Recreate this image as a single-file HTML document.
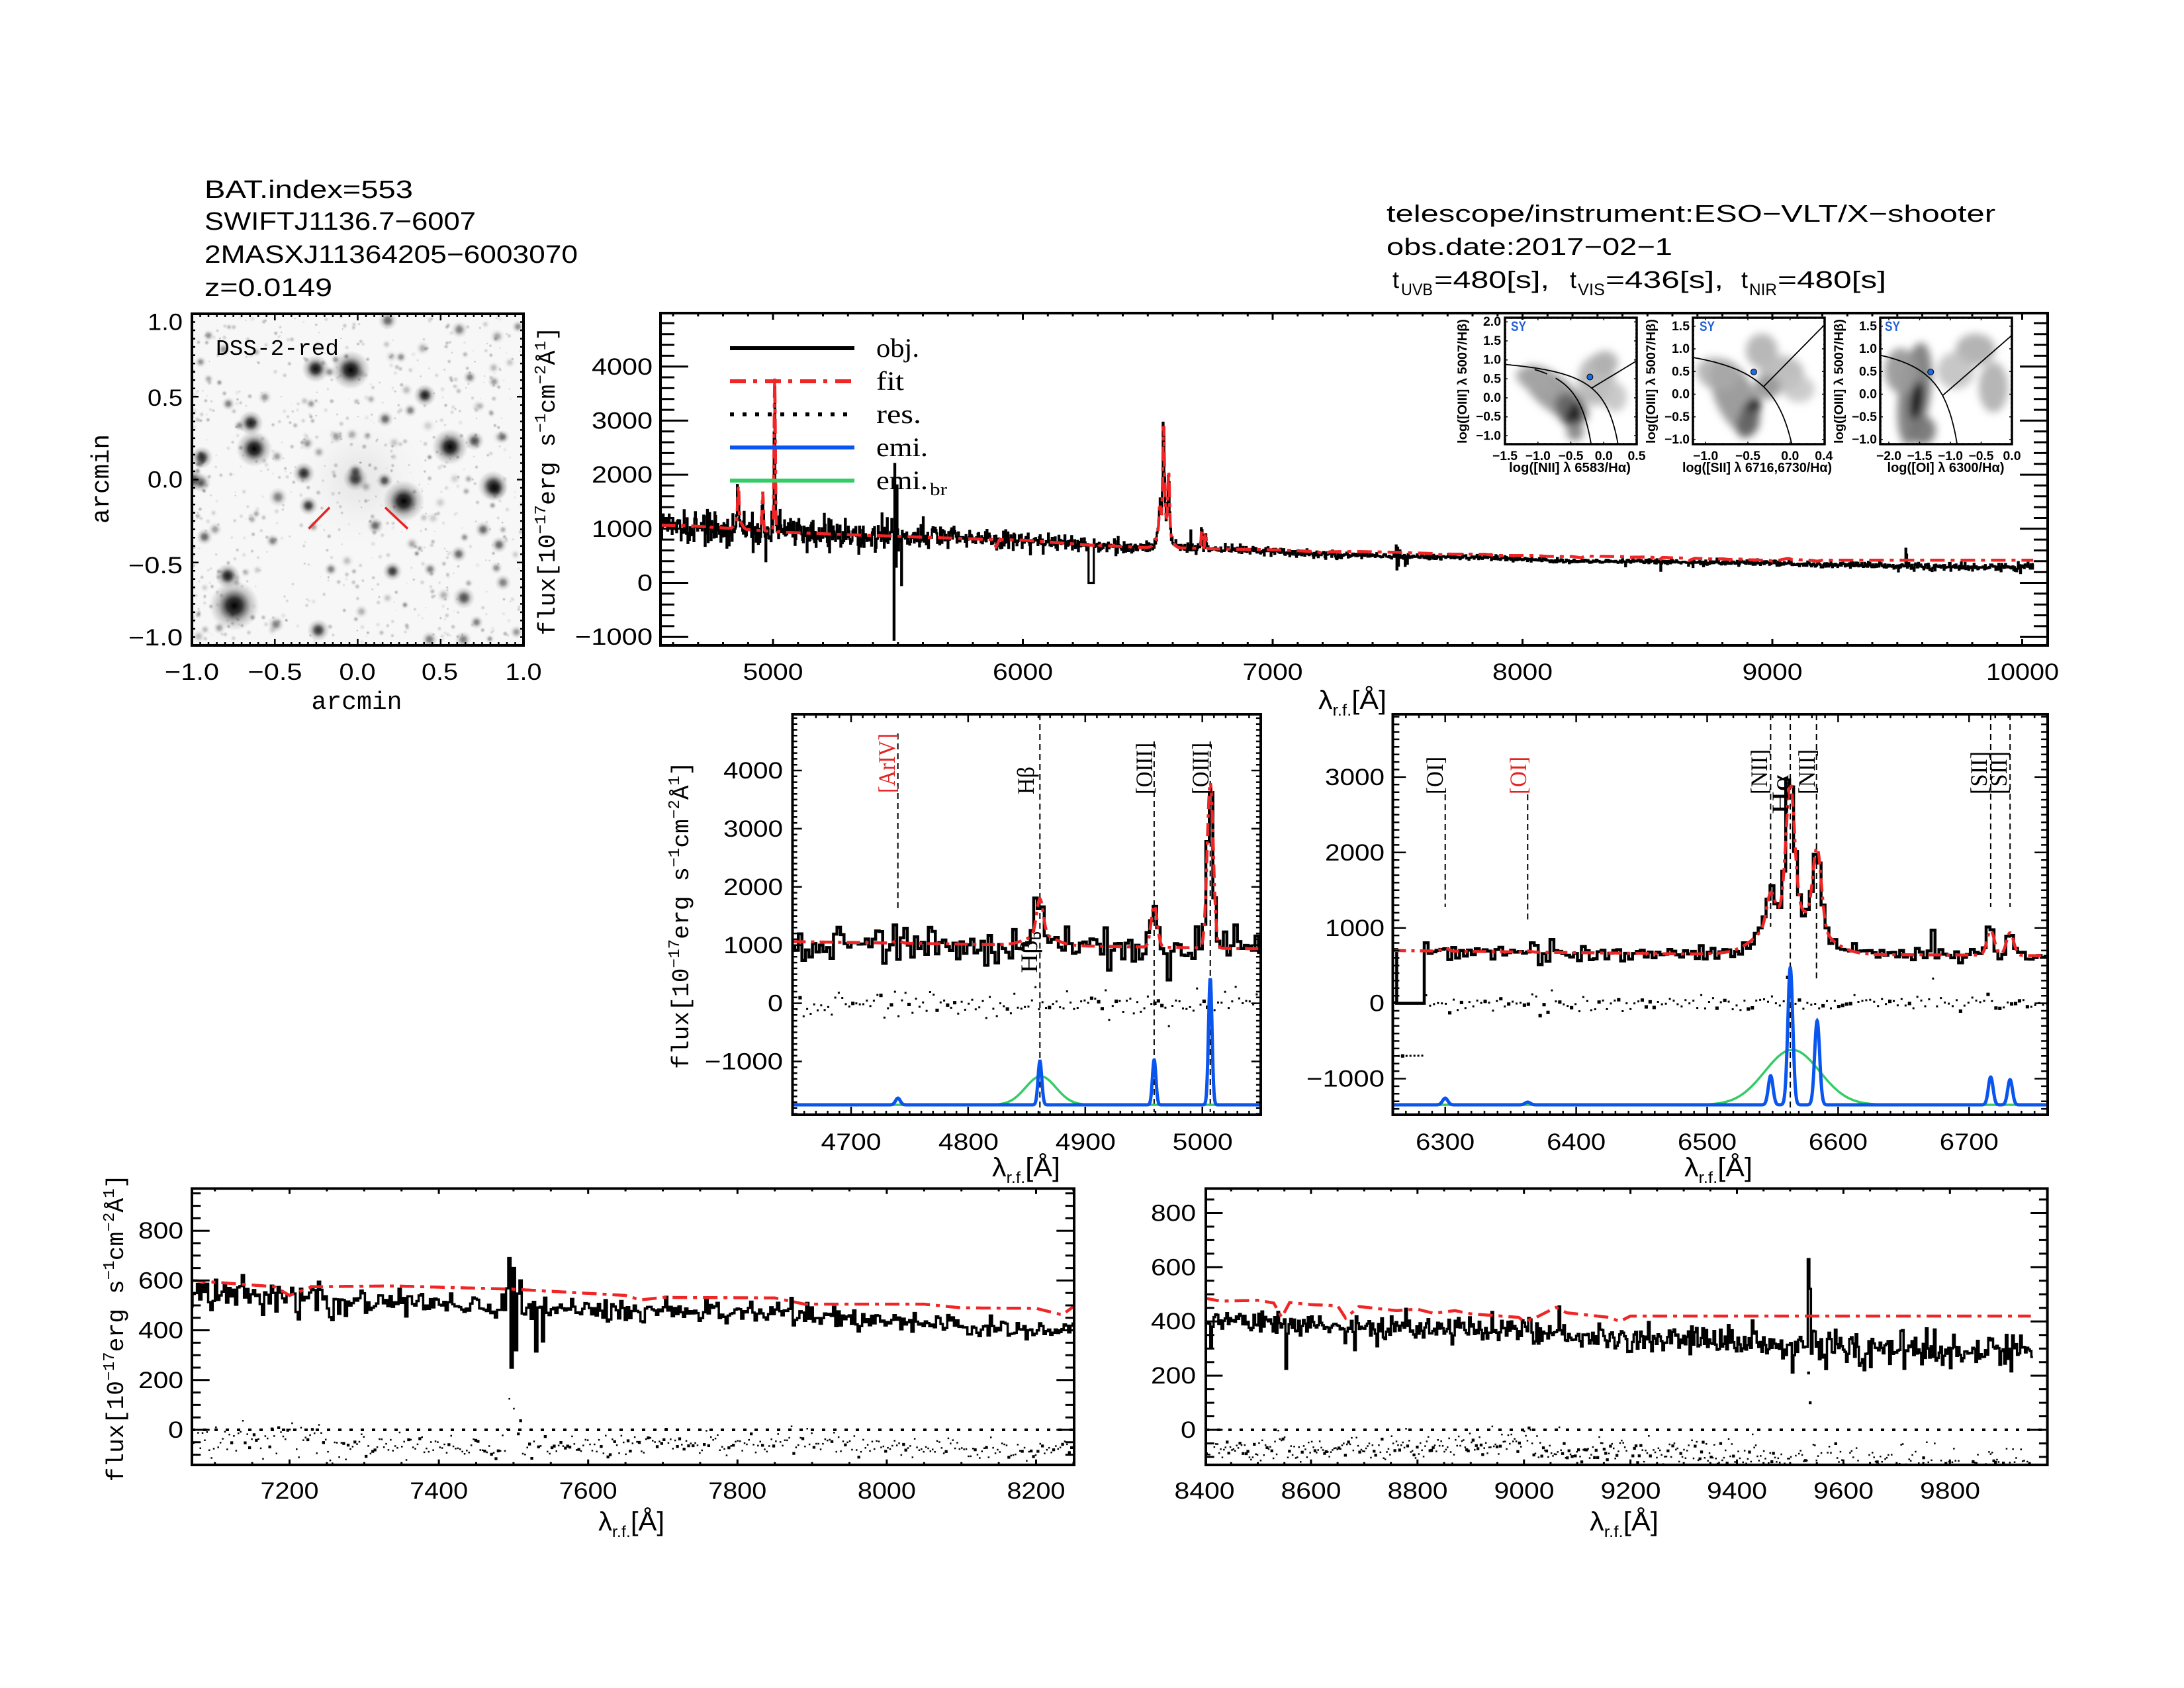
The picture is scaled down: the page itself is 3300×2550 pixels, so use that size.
<!DOCTYPE html>
<html><head><meta charset="utf-8"><style>
html,body{margin:0;padding:0;background:#fff;}
svg{display:block;}
.sans{font-family:"Liberation Sans",sans-serif;}
.serif{font-family:"Liberation Serif",serif;}
.mono{font-family:"Liberation Mono",monospace;}
</style></head><body>
<svg id="s" xmlns="http://www.w3.org/2000/svg" width="3300" height="2550" viewBox="0 0 3300 2550">
<defs>
<radialGradient id="star"><stop offset="0" stop-color="#000" stop-opacity="1"/><stop offset="0.3" stop-color="#111" stop-opacity="0.85"/><stop offset="0.65" stop-color="#444" stop-opacity="0.3"/><stop offset="1" stop-color="#666" stop-opacity="0"/></radialGradient>
<radialGradient id="speck"><stop offset="0" stop-color="#222" stop-opacity="1"/><stop offset="0.5" stop-color="#444" stop-opacity="0.6"/><stop offset="1" stop-color="#888" stop-opacity="0"/></radialGradient>
<filter id="blur" x="-50%" y="-50%" width="200%" height="200%"><feGaussianBlur stdDeviation="6"/></filter>
<clipPath id="cImg"><rect x="290" y="474" width="501" height="501"/></clipPath>
<clipPath id="cTop"><rect x="998" y="473" width="2096" height="502"/></clipPath>
<clipPath id="cML"><rect x="1197.5" y="1079" width="707.5" height="605"/></clipPath>
<clipPath id="cMR"><rect x="2104.5" y="1079" width="989.5" height="605"/></clipPath>
<clipPath id="cBL"><rect x="290" y="1795.5" width="1333" height="417.5"/></clipPath>
<clipPath id="cBR"><rect x="1822" y="1795.5" width="1271.6" height="417.5"/></clipPath>
<clipPath id="cI1"><rect x="2274" y="480" width="199" height="191"/></clipPath>
<clipPath id="cI2"><rect x="2558" y="480" width="199" height="191"/></clipPath>
<clipPath id="cI3"><rect x="2841" y="480" width="199" height="191"/></clipPath>
</defs>
<rect width="3300" height="2550" fill="#fff"/>
<g id="L1"></g>
<g id="L2"></g>

<!-- Header left -->
<g class="sans" font-size="38" fill="#000">
<text x="309" y="299" textLength="315" lengthAdjust="spacingAndGlyphs">BAT.index=553</text>
<text x="309" y="347" textLength="410" lengthAdjust="spacingAndGlyphs">SWIFTJ1136.7−6007</text>
<text x="309" y="397" textLength="564" lengthAdjust="spacingAndGlyphs">2MASXJ11364205−6003070</text>
<text x="309" y="447" textLength="193" lengthAdjust="spacingAndGlyphs">z=0.0149</text>
</g>
<!-- Header right -->
<g class="sans" font-size="36" fill="#000">
<text x="2095" y="335" textLength="920" lengthAdjust="spacingAndGlyphs">telescope/instrument:ESO−VLT/X−shooter</text>
<text x="2095" y="385" textLength="432" lengthAdjust="spacingAndGlyphs">obs.date:2017−02−1</text>
<text x="2104" y="435">t</text>
<text x="2117" y="446" font-size="25" textLength="48" lengthAdjust="spacingAndGlyphs">UVB</text>
<text x="2167" y="435" textLength="174" lengthAdjust="spacingAndGlyphs">=480[s],</text>
<text x="2372" y="435">t</text>
<text x="2384" y="446" font-size="25" textLength="41" lengthAdjust="spacingAndGlyphs">VIS</text>
<text x="2426" y="435" textLength="178" lengthAdjust="spacingAndGlyphs">=436[s],</text>
<text x="2631" y="435">t</text>
<text x="2643" y="446" font-size="25" textLength="42" lengthAdjust="spacingAndGlyphs">NIR</text>
<text x="2686" y="435" textLength="164" lengthAdjust="spacingAndGlyphs">=480[s]</text>
</g>

<!-- Image panel labels -->
<text class="mono" x="326" y="536" font-size="33" textLength="186" lengthAdjust="spacingAndGlyphs">DSS-2-red</text>
<g class="sans" font-size="35" fill="#000" text-anchor="middle">
<text x="290" y="1027" textLength="82" lengthAdjust="spacingAndGlyphs">−1.0</text>
<text x="415.5" y="1027" textLength="82" lengthAdjust="spacingAndGlyphs">−0.5</text>
<text x="540" y="1027" textLength="55" lengthAdjust="spacingAndGlyphs">0.0</text>
<text x="664.5" y="1027" textLength="55" lengthAdjust="spacingAndGlyphs">0.5</text>
<text x="791" y="1027" textLength="55" lengthAdjust="spacingAndGlyphs">1.0</text>
</g>
<g class="sans" font-size="35" fill="#000" text-anchor="end">
<text x="276" y="498.5" textLength="53" lengthAdjust="spacingAndGlyphs">1.0</text>
<text x="276" y="613" textLength="53" lengthAdjust="spacingAndGlyphs">0.5</text>
<text x="276" y="736.5" textLength="53" lengthAdjust="spacingAndGlyphs">0.0</text>
<text x="276" y="866" textLength="82" lengthAdjust="spacingAndGlyphs">−0.5</text>
<text x="276" y="975" textLength="82" lengthAdjust="spacingAndGlyphs">−1.0</text>
</g>
<text class="mono" x="539" y="1071" font-size="38" text-anchor="middle" textLength="137" lengthAdjust="spacingAndGlyphs">arcmin</text>
<text class="mono" font-size="38" text-anchor="middle" transform="translate(164,723.5) rotate(-90)" textLength="135" lengthAdjust="spacingAndGlyphs">arcmin</text>

<!-- y labels flux -->
<text class="mono" font-size="36" text-anchor="middle" transform="translate(838,726.5) rotate(-90)" textLength="467" lengthAdjust="spacingAndGlyphs">flux[10<tspan dy="-14" font-size="24">−17</tspan><tspan dy="14">erg s</tspan><tspan dy="-14" font-size="24">−1</tspan><tspan dy="14">cm</tspan><tspan dy="-14" font-size="24">−2</tspan><tspan dy="14">Å</tspan><tspan dy="-14" font-size="24">1</tspan><tspan dy="14">]</tspan></text>
<text class="mono" font-size="36" text-anchor="middle" transform="translate(1040,1382.5) rotate(-90)" textLength="465" lengthAdjust="spacingAndGlyphs">flux[10<tspan dy="-14" font-size="24">−17</tspan><tspan dy="14">erg s</tspan><tspan dy="-14" font-size="24">−1</tspan><tspan dy="14">cm</tspan><tspan dy="-14" font-size="24">−2</tspan><tspan dy="14">Å</tspan><tspan dy="-14" font-size="24">1</tspan><tspan dy="14">]</tspan></text>
<text class="mono" font-size="36" text-anchor="middle" transform="translate(186,2006) rotate(-90)" textLength="465" lengthAdjust="spacingAndGlyphs">flux[10<tspan dy="-14" font-size="24">−17</tspan><tspan dy="14">erg s</tspan><tspan dy="-14" font-size="24">−1</tspan><tspan dy="14">cm</tspan><tspan dy="-14" font-size="24">−2</tspan><tspan dy="14">Å</tspan><tspan dy="-14" font-size="24">1</tspan><tspan dy="14">]</tspan></text>

<!-- lambda labels -->
<g class="sans" font-size="40" fill="#000">
<text x="1992" y="1071" textLength="103" lengthAdjust="spacingAndGlyphs">λ<tspan dy="10" font-size="24">r.f.</tspan><tspan dy="-10">[Å]</tspan></text>
<text x="1499" y="1777" textLength="103" lengthAdjust="spacingAndGlyphs">λ<tspan dy="10" font-size="24">r.f.</tspan><tspan dy="-10">[Å]</tspan></text>
<text x="2545" y="1777" textLength="103" lengthAdjust="spacingAndGlyphs">λ<tspan dy="10" font-size="24">r.f.</tspan><tspan dy="-10">[Å]</tspan></text>
<text x="904" y="2312" textLength="100" lengthAdjust="spacingAndGlyphs">λ<tspan dy="10" font-size="24">r.f.</tspan><tspan dy="-10">[Å]</tspan></text>
<text x="2402" y="2312" textLength="104" lengthAdjust="spacingAndGlyphs">λ<tspan dy="10" font-size="24">r.f.</tspan><tspan dy="-10">[Å]</tspan></text>
</g>

<!-- Top panel tick labels -->
<g class="sans" font-size="35" fill="#000" text-anchor="middle">
<text x="1168" y="1027" textLength="91" lengthAdjust="spacingAndGlyphs">5000</text>
<text x="1545.5" y="1027" textLength="91" lengthAdjust="spacingAndGlyphs">6000</text>
<text x="1923" y="1027" textLength="91" lengthAdjust="spacingAndGlyphs">7000</text>
<text x="2300.5" y="1027" textLength="91" lengthAdjust="spacingAndGlyphs">8000</text>
<text x="2678" y="1027" textLength="91" lengthAdjust="spacingAndGlyphs">9000</text>
<text x="3056" y="1027" textLength="110" lengthAdjust="spacingAndGlyphs">10000</text>
</g>
<g class="sans" font-size="35" fill="#000" text-anchor="end">
<text x="986" y="566" textLength="92" lengthAdjust="spacingAndGlyphs">4000</text>
<text x="986" y="647.5" textLength="92" lengthAdjust="spacingAndGlyphs">3000</text>
<text x="986" y="729" textLength="92" lengthAdjust="spacingAndGlyphs">2000</text>
<text x="986" y="811" textLength="92" lengthAdjust="spacingAndGlyphs">1000</text>
<text x="986" y="892.5" textLength="23" lengthAdjust="spacingAndGlyphs">0</text>
<text x="986" y="974" textLength="117" lengthAdjust="spacingAndGlyphs">−1000</text>
</g>

<!-- Legend text -->
<g class="serif" font-size="40" fill="#000">
<text x="1324" y="539" textLength="65" lengthAdjust="spacingAndGlyphs">obj.</text>
<text x="1324" y="589" textLength="42" lengthAdjust="spacingAndGlyphs">fit</text>
<text x="1324" y="639" textLength="68" lengthAdjust="spacingAndGlyphs">res.</text>
<text x="1324" y="689" textLength="78" lengthAdjust="spacingAndGlyphs">emi.</text>
<text x="1324" y="739" textLength="78" lengthAdjust="spacingAndGlyphs">emi.</text>
<text x="1405" y="748" font-size="26" textLength="26" lengthAdjust="spacingAndGlyphs">br</text>
</g>

<!-- ML/MR tick labels -->
<g class="sans" font-size="35" fill="#000" text-anchor="middle">
<text x="1286" y="1737" textLength="91" lengthAdjust="spacingAndGlyphs">4700</text>
<text x="1463.4" y="1737" textLength="91" lengthAdjust="spacingAndGlyphs">4800</text>
<text x="1640.3" y="1737" textLength="91" lengthAdjust="spacingAndGlyphs">4900</text>
<text x="1817.2" y="1737" textLength="91" lengthAdjust="spacingAndGlyphs">5000</text>
<text x="2183.7" y="1737" textLength="89" lengthAdjust="spacingAndGlyphs">6300</text>
<text x="2381.6" y="1737" textLength="89" lengthAdjust="spacingAndGlyphs">6400</text>
<text x="2579.5" y="1737" textLength="89" lengthAdjust="spacingAndGlyphs">6500</text>
<text x="2777.4" y="1737" textLength="89" lengthAdjust="spacingAndGlyphs">6600</text>
<text x="2975.3" y="1737" textLength="89" lengthAdjust="spacingAndGlyphs">6700</text>
</g>
<g class="sans" font-size="35" fill="#000" text-anchor="end">
<text x="1183" y="1176" textLength="90" lengthAdjust="spacingAndGlyphs">4000</text>
<text x="1183" y="1264" textLength="90" lengthAdjust="spacingAndGlyphs">3000</text>
<text x="1183" y="1352" textLength="90" lengthAdjust="spacingAndGlyphs">2000</text>
<text x="1183" y="1440" textLength="90" lengthAdjust="spacingAndGlyphs">1000</text>
<text x="1183" y="1527.6" textLength="23" lengthAdjust="spacingAndGlyphs">0</text>
<text x="1183" y="1615.5" textLength="118" lengthAdjust="spacingAndGlyphs">−1000</text>
<text x="2092" y="1186" textLength="90" lengthAdjust="spacingAndGlyphs">3000</text>
<text x="2092" y="1300" textLength="90" lengthAdjust="spacingAndGlyphs">2000</text>
<text x="2092" y="1414" textLength="90" lengthAdjust="spacingAndGlyphs">1000</text>
<text x="2092" y="1527.6" textLength="23" lengthAdjust="spacingAndGlyphs">0</text>
<text x="2092" y="1641.5" textLength="118" lengthAdjust="spacingAndGlyphs">−1000</text>
</g>

<!-- Line ID labels -->
<g class="serif" font-size="36">
<text fill="#e52222" transform="translate(1352,1198) rotate(-90)" textLength="90" lengthAdjust="spacingAndGlyphs">[ArIV]</text>
<text fill="#000" transform="translate(1562,1200) rotate(-90)" textLength="42" lengthAdjust="spacingAndGlyphs">Hβ</text>
<text fill="#000" transform="translate(1741,1200) rotate(-90)" textLength="78" lengthAdjust="spacingAndGlyphs">[OIII]</text>
<text fill="#000" transform="translate(1826,1200) rotate(-90)" textLength="78" lengthAdjust="spacingAndGlyphs">[OIII]</text>
<text fill="#000" transform="translate(1567,1470) rotate(-90)" textLength="63" lengthAdjust="spacingAndGlyphs">Hβ<tspan dy="6" font-size="24">b</tspan></text>
<text fill="#000" transform="translate(2180,1200) rotate(-90)" textLength="57" lengthAdjust="spacingAndGlyphs">[OI]</text>
<text fill="#e52222" transform="translate(2306,1200) rotate(-90)" textLength="57" lengthAdjust="spacingAndGlyphs">[OI]</text>
<text fill="#000" transform="translate(2670,1200) rotate(-90)" textLength="68" lengthAdjust="spacingAndGlyphs">[NII]</text>
<text fill="#000" transform="translate(2702,1230) rotate(-90)" textLength="60" lengthAdjust="spacingAndGlyphs">Hα</text>
<text fill="#000" transform="translate(2742,1200) rotate(-90)" textLength="68" lengthAdjust="spacingAndGlyphs">[NII]</text>
<text fill="#000" transform="translate(3002,1200) rotate(-90)" textLength="65" lengthAdjust="spacingAndGlyphs">[SII]</text>
<text fill="#000" transform="translate(3032,1200) rotate(-90)" textLength="65" lengthAdjust="spacingAndGlyphs">[SII]</text>
</g>

<!-- Bottom tick labels -->
<g class="sans" font-size="35" fill="#000" text-anchor="middle">
<text x="437.5" y="2264" textLength="88" lengthAdjust="spacingAndGlyphs">7200</text>
<text x="663.1" y="2264" textLength="88" lengthAdjust="spacingAndGlyphs">7400</text>
<text x="888.7" y="2264" textLength="88" lengthAdjust="spacingAndGlyphs">7600</text>
<text x="1114.3" y="2264" textLength="88" lengthAdjust="spacingAndGlyphs">7800</text>
<text x="1339.9" y="2264" textLength="88" lengthAdjust="spacingAndGlyphs">8000</text>
<text x="1565.5" y="2264" textLength="88" lengthAdjust="spacingAndGlyphs">8200</text>
<text x="1820" y="2264" textLength="91" lengthAdjust="spacingAndGlyphs">8400</text>
<text x="1981" y="2264" textLength="91" lengthAdjust="spacingAndGlyphs">8600</text>
<text x="2142" y="2264" textLength="91" lengthAdjust="spacingAndGlyphs">8800</text>
<text x="2303" y="2264" textLength="91" lengthAdjust="spacingAndGlyphs">9000</text>
<text x="2464" y="2264" textLength="91" lengthAdjust="spacingAndGlyphs">9200</text>
<text x="2624.5" y="2264" textLength="91" lengthAdjust="spacingAndGlyphs">9400</text>
<text x="2785.5" y="2264" textLength="91" lengthAdjust="spacingAndGlyphs">9600</text>
<text x="2946.5" y="2264" textLength="91" lengthAdjust="spacingAndGlyphs">9800</text>
</g>
<g class="sans" font-size="35" fill="#000" text-anchor="end">
<text x="277" y="1871" textLength="68" lengthAdjust="spacingAndGlyphs">800</text>
<text x="277" y="1946.4" textLength="68" lengthAdjust="spacingAndGlyphs">600</text>
<text x="277" y="2021.6" textLength="68" lengthAdjust="spacingAndGlyphs">400</text>
<text x="277" y="2096.8" textLength="68" lengthAdjust="spacingAndGlyphs">200</text>
<text x="277" y="2172" textLength="23" lengthAdjust="spacingAndGlyphs">0</text>
<text x="1807" y="1844.5" textLength="68" lengthAdjust="spacingAndGlyphs">800</text>
<text x="1807" y="1926.4" textLength="68" lengthAdjust="spacingAndGlyphs">600</text>
<text x="1807" y="2008.2" textLength="68" lengthAdjust="spacingAndGlyphs">400</text>
<text x="1807" y="2090" textLength="68" lengthAdjust="spacingAndGlyphs">200</text>
<text x="1807" y="2172" textLength="23" lengthAdjust="spacingAndGlyphs">0</text>
</g>

<!-- Inset labels -->
<g class="sans" font-size="19" font-weight="bold" fill="#000" text-anchor="end">
<text x="2268" y="492" textLength="27" lengthAdjust="spacingAndGlyphs">2.0</text>
<text x="2268" y="521" textLength="27" lengthAdjust="spacingAndGlyphs">1.5</text>
<text x="2268" y="549.7" textLength="27" lengthAdjust="spacingAndGlyphs">1.0</text>
<text x="2268" y="578.3" textLength="27" lengthAdjust="spacingAndGlyphs">0.5</text>
<text x="2268" y="607" textLength="27" lengthAdjust="spacingAndGlyphs">0.0</text>
<text x="2268" y="635.7" textLength="38" lengthAdjust="spacingAndGlyphs">−0.5</text>
<text x="2268" y="664.3" textLength="38" lengthAdjust="spacingAndGlyphs">−1.0</text>
<text x="2553" y="498.8" textLength="27" lengthAdjust="spacingAndGlyphs">1.5</text>
<text x="2553" y="533" textLength="27" lengthAdjust="spacingAndGlyphs">1.0</text>
<text x="2553" y="567.3" textLength="27" lengthAdjust="spacingAndGlyphs">0.5</text>
<text x="2553" y="601.5" textLength="27" lengthAdjust="spacingAndGlyphs">0.0</text>
<text x="2553" y="635.8" textLength="38" lengthAdjust="spacingAndGlyphs">−0.5</text>
<text x="2553" y="670" textLength="38" lengthAdjust="spacingAndGlyphs">−1.0</text>
<text x="2836" y="498.8" textLength="27" lengthAdjust="spacingAndGlyphs">1.5</text>
<text x="2836" y="533" textLength="27" lengthAdjust="spacingAndGlyphs">1.0</text>
<text x="2836" y="567.3" textLength="27" lengthAdjust="spacingAndGlyphs">0.5</text>
<text x="2836" y="601.5" textLength="27" lengthAdjust="spacingAndGlyphs">0.0</text>
<text x="2836" y="635.8" textLength="38" lengthAdjust="spacingAndGlyphs">−0.5</text>
<text x="2836" y="670" textLength="38" lengthAdjust="spacingAndGlyphs">−1.0</text>
</g>
<g class="sans" font-size="19" font-weight="bold" fill="#000" text-anchor="middle">
<text x="2274" y="695" textLength="38" lengthAdjust="spacingAndGlyphs">−1.5</text>
<text x="2323.8" y="695" textLength="38" lengthAdjust="spacingAndGlyphs">−1.0</text>
<text x="2373.5" y="695" textLength="38" lengthAdjust="spacingAndGlyphs">−0.5</text>
<text x="2423.3" y="695" textLength="27" lengthAdjust="spacingAndGlyphs">0.0</text>
<text x="2473" y="695" textLength="27" lengthAdjust="spacingAndGlyphs">0.5</text>
<text x="2577.2" y="695" textLength="38" lengthAdjust="spacingAndGlyphs">−1.0</text>
<text x="2641" y="695" textLength="38" lengthAdjust="spacingAndGlyphs">−0.5</text>
<text x="2704.8" y="695" textLength="27" lengthAdjust="spacingAndGlyphs">0.0</text>
<text x="2755.8" y="695" textLength="27" lengthAdjust="spacingAndGlyphs">0.4</text>
<text x="2854" y="695" textLength="38" lengthAdjust="spacingAndGlyphs">−2.0</text>
<text x="2900.5" y="695" textLength="38" lengthAdjust="spacingAndGlyphs">−1.5</text>
<text x="2947" y="695" textLength="38" lengthAdjust="spacingAndGlyphs">−1.0</text>
<text x="2993.5" y="695" textLength="38" lengthAdjust="spacingAndGlyphs">−0.5</text>
<text x="3040" y="695" textLength="27" lengthAdjust="spacingAndGlyphs">0.0</text>
<text x="2372" y="713" font-size="20" textLength="184" lengthAdjust="spacingAndGlyphs">log([NII] λ 6583/Hα)</text>
<text x="2655" y="713" font-size="20" textLength="226" lengthAdjust="spacingAndGlyphs">log([SII] λ 6716,6730/Hα)</text>
<text x="2940" y="713" font-size="20" textLength="177" lengthAdjust="spacingAndGlyphs">log([OI] λ 6300/Hα)</text>
<text font-size="19" transform="translate(2216,576) rotate(-90)" textLength="188" lengthAdjust="spacingAndGlyphs">log([OIII] λ 5007/Hβ)</text>
<text font-size="19" transform="translate(2501,576) rotate(-90)" textLength="188" lengthAdjust="spacingAndGlyphs">log([OIII] λ 5007/Hβ)</text>
<text font-size="19" transform="translate(2785,576) rotate(-90)" textLength="188" lengthAdjust="spacingAndGlyphs">log([OIII] λ 5007/Hβ)</text>
</g>
<g class="sans" font-size="21" font-weight="bold" fill="#1f5fd6">
<text x="2283" y="500" textLength="23" lengthAdjust="spacingAndGlyphs">SY</text>
<text x="2568" y="500" textLength="23" lengthAdjust="spacingAndGlyphs">SY</text>
<text x="2848" y="500" textLength="23" lengthAdjust="spacingAndGlyphs">SY</text>
</g>
</svg>
<script>
(function(){
const NS="http://www.w3.org/2000/svg";
const L1=document.getElementById('L1'),L2=document.getElementById('L2');
function el(t,a,p){const e=document.createElementNS(NS,t);for(const k in a)e.setAttribute(k,a[k]);(p||L1).appendChild(e);return e;}
let S=2463534242;
function rnd(){S^=(S<<13);S>>>=0;S^=(S>>>17);S^=(S<<5);S>>>=0;return S/4294967296;}
function gn(){let u=rnd()||1e-9,v=rnd();return Math.sqrt(-2*Math.log(u))*Math.cos(6.2831853*v);}
function interp(K,x){if(x<=K[0][0])return K[0][1];for(let i=1;i<K.length;i++){if(x<=K[i][0]){const a=K[i-1],b=K[i];return a[1]+(b[1]-a[1])*(x-a[0])/(b[0]-a[0]);}}return K[K.length-1][1];}
function G(x,m,s){const d=(x-m)/s;return Math.exp(-0.5*d*d);}

// ---------- DSS image ----------
const gi=el('g',{'clip-path':'url(#cImg)'});
el('rect',{x:290,y:474,width:501,height:501,fill:'#f7f7f7'},gi);
for(let i=0;i<700;i++){const x=290+rnd()*501,y=474+rnd()*501,r=1.5+rnd()*3.5;el('circle',{cx:x.toFixed(1),cy:y.toFixed(1),r:r.toFixed(1),fill:'url(#speck)',opacity:(0.08+rnd()*0.3).toFixed(2)},gi);}
for(let i=0;i<90;i++){const x=290+rnd()*501,y=474+rnd()*501,r=5+rnd()*6;el('circle',{cx:x.toFixed(1),cy:y.toFixed(1),r:r.toFixed(1),fill:'url(#star)',opacity:(0.15+rnd()*0.3).toFixed(2)},gi);}
el('circle',{cx:545,cy:725,r:100,fill:'url(#star)',opacity:0.06},gi);
const STARS=[[477,557,10,0.95],[530,559,14,1],[642,597,8,0.9],[379,639,9,0.9],[384,678,13,1],[680,675,13,1],[717,666,7,0.7],[305,691,8,0.85],[459,715,8,0.85],[537,723,9,0.8],[581,726,6,0.7],[745,734,11,0.9],[610,757,15,1],[466,764,7,0.8],[304,729,7,0.6],[567,794,6,0.6],[344,870,9,0.9],[354,915,18,1],[593,863,7,0.8],[693,837,6,0.6],[701,903,8,0.7],[481,952,8,0.8],[730,800,6,0.6],[754,823,6,0.6],[582,633,6,0.6],[420,751,7,0.5],[309,811,6,0.6],[412,817,5,0.5],[694,498,6,0.5],[586,484,7,0.6],[649,966,6,0.5],[700,966,6,0.5],[338,528,5,0.4],[620,620,5,0.5],[345,610,5,0.5],[400,600,5,0.4],[760,660,5,0.5],[720,940,5,0.5],[500,860,5,0.5],[760,880,6,0.5],[470,610,4,0.4],[650,860,5,0.5],[710,570,5,0.5],[417,943,6,0.5],[292,725,8,0.7],[748,738,9,0.8],[537,712,6,0.6]];
for(const s of STARS)el('circle',{cx:s[0],cy:s[1],r:(s[2]*2.1).toFixed(1),fill:'url(#star)',opacity:s[3]},gi);
el('line',{x1:466.5,y1:798.7,x2:498,y2:766.6,stroke:'#e82222','stroke-width':3.5},gi);
el('line',{x1:582,y1:766.6,x2:616,y2:798.7,stroke:'#e82222','stroke-width':3.5},gi);

// ---------- Models ----------
const FC=[[4550,1065],[4650,1060],[4850,1000],[5050,935],[5300,890],[5500,860],[5880,800],[5893,660],[5906,800],[6000,790],[6260,700],[6480,655],[6700,640],[6760,630],[7000,610],[7070,600],[7180,575],[7200,540],[7230,575],[7340,578],[7500,565],[7650,540],[7670,522],[7700,532],[7850,530],[7890,505],[8050,505],[8100,490],[8200,488],[8235,462],[8250,495],[8400,486],[8430,475],[8500,478],[8530,468],[8545,415],[8560,470],[8600,462],[8650,458],[8665,412],[8690,455],[8760,440],[8800,445],[8830,430],[8870,440],[8900,428],[8990,415],[9000,400],[9020,412],[9060,452],[9080,432],[9160,415],[9180,400],[9200,420],[10100,420]];
const OC=[[4550,1050],[4650,1060],[4850,1000],[5050,935],[5300,890],[5500,860],[6000,790],[6260,700],[6480,655],[6700,640],[6760,630],[7000,585],[7070,560],[7300,512],[7450,492],[7600,482],[7800,472],[7900,455],[8050,425],[8250,398],[8400,392],[8450,405],[8500,395],[8700,380],[8800,375],[9000,365],[9100,345],[9200,335],[9300,335],[9400,318],[9600,310],[9800,292],[9950,300],[10100,290]];
const LN=[[4740,40,3],[4861.3,620,2.8],[4862,180,12],[4958.9,720,2.6],[5006.8,2850,2.6],[6300,40,2.5],[6363,15,2.5],[6548.5,380,3],[6563.5,1650,3.2],[6565,620,20],[6584,1020,3.2],[6716.5,330,2.8],[6731.3,300,2.8]];
function lines(l){let s=0;for(const q of LN){const d=(l-q[0])/q[2];if(d>-6&&d<6)s+=q[1]*Math.exp(-0.5*d*d);}return s;}
function fit(l){return interp(FC,l)+lines(l);}
function SD(l){if(l<4950)return 150;if(l<5500)return 130;if(l<6000)return 90;if(l<6260)return 60;if(l<6500)return 55;if(l<6800)return 40;if(l<7000)return 32;if(l<7260)return 36;if(l<7480)return 28;if(l<7545)return 45;if(l<8300)return 21;if(l<9000)return 20;if(l<9200)return 24;return 28+(l-9200)/750*12;}
const h=3,l0=4551.5;const LG=[],OBJ=[];
for(let l=l0;l<10100;l+=h){let n=gn();if(l<7000&&rnd()<0.04)n*=2.0;LG.push(l);OBJ.push(interp(OC,l)+lines(l)*(0.93+0.17*rnd())+SD(l)*n);}
const N=LG.length;
function idx(l){return Math.round((l-l0)/h);}
function setv(l,v){const i=idx(l);if(i>=0&&i<N)OBJ[i]=v;}
setv(5484,-1050);setv(5487,2200);setv(5490,1500);setv(5493,300);setv(5496,1800);setv(5502,600);setv(5514,-40);
for(let i=0;i<N;i++){if(LG[i]>=6264&&LG[i]<=6283)OBJ[i]=0;}
setv(7493,690);setv(7496,250);setv(7499,650);setv(7502,320);setv(7508,600);setv(7529,315);setv(7538,355);
setv(8412,307);setv(8553,225);setv(8665,320);setv(8683,294);setv(9066,455);setv(9534,630);setv(9537,520);
setv(6672,970);

const P={
top:{x0:998,x1:3094,y0:473,y1:975,fx:l=>1168+(l-5000)*0.3775,fy:v=>880.5-v*0.0817},
ml:{x0:1197.5,x1:1905,y0:1079,y1:1684,fx:l=>1197.5+(l-4650)*1.769,fy:v=>1515.6-v*0.0879},
mr:{x0:2104.5,x1:3094,y0:1079,y1:1684,fx:l=>2104.5+(l-6260)*1.979,fy:v=>1515.6-v*0.1139},
bl:{x0:290,x1:1623,y0:1795.5,y1:2213,fx:l=>437.5+(l-7200)*1.128,fy:v=>2160-v*0.376},
br:{x0:1822,x1:3093.6,y0:1795.5,y1:2213,fx:l=>1820+(l-8400)*0.8045,fy:v=>2160-v*0.4094}
};
function hist(p,a,b){let d='';for(let i=0;i<N;i++){const l=LG[i];if(l<a||l>b)continue;const xa=p.fx(l-h/2),xb=p.fx(l+h/2),y=p.fy(OBJ[i]);if(!d)d='M'+xa.toFixed(1)+' '+y.toFixed(1);else d+='V'+y.toFixed(1);d+='H'+xb.toFixed(1);}return d;}
function fpath(p,a,b,st){let d='';for(let l=a;l<=b;l+=st){d+=(d?'L':'M')+p.fx(l).toFixed(1)+' '+p.fy(fit(l)).toFixed(1);}return d;}
function dots(p,a,b,s,sc){let d='';for(let i=0;i<N;i++){const l=LG[i];if(l<a||l>b)continue;const r=(OBJ[i]-fit(l))*sc;const x=p.fx(l),y=p.fy(r);if(y<p.y0||y>p.y1)continue;const q=(rnd()<0.2)?s*1.7:s;d+='M'+(x-q/2).toFixed(1)+' '+(y-q/2).toFixed(1)+'h'+q.toFixed(1)+'v'+q.toFixed(1)+'h'+(-q).toFixed(1)+'z';}return d;}
function pxpath(p,a,b,st,f){let d='';for(let l=a;l<=b+1e-9;l+=st){d+=(d?'L':'M')+p.fx(l).toFixed(1)+' '+f(l).toFixed(1);}return d;}
const RED='#f02525',BLUE='#0a55ee',GREEN='#33cc66';

// top panel
{const g=el('g',{'clip-path':'url(#cTop)'});const p=P.top;
el('path',{d:hist(p,4551,10045),fill:'none',stroke:'#000','stroke-width':3.2,'stroke-linejoin':'miter'},g);
el('path',{d:fpath(p,4551,10045,1.5),fill:'none',stroke:RED,'stroke-width':4.5,'stroke-dasharray':'22 9 6 9'},g);
}
// legend
el('line',{x1:1103,y1:526,x2:1291,y2:526,stroke:'#000','stroke-width':6});
el('line',{x1:1103,y1:576,x2:1291,y2:576,stroke:RED,'stroke-width':6,'stroke-dasharray':'24 11 6 12'});
el('line',{x1:1103,y1:626,x2:1291,y2:626,stroke:'#000','stroke-width':6,'stroke-dasharray':'6 13'});
el('line',{x1:1103,y1:676,x2:1291,y2:676,stroke:BLUE,'stroke-width':6});
el('line',{x1:1103,y1:726,x2:1291,y2:726,stroke:GREEN,'stroke-width':6});

// middle left
{const g=el('g',{'clip-path':'url(#cML)'});const p=P.ml;
const vl=[[4740,1108,1375],[4861.3,1079,1684],[4958.9,1120,1680],[5006.8,1120,1680]];
for(const v of vl)el('line',{x1:p.fx(v[0]).toFixed(1),y1:v[1],x2:p.fx(v[0]).toFixed(1),y2:v[2],stroke:'#000','stroke-width':2,'stroke-dasharray':'9 6'},g);
el('path',{d:hist(p,4650,5052),fill:'none',stroke:'#000','stroke-width':4.5},g);
el('path',{d:fpath(p,4650,5050,0.5),fill:'none',stroke:RED,'stroke-width':4.5,'stroke-dasharray':'20 8 5 8'},g);
el('path',{d:dots(p,4650,5052,3,0.7),fill:'#000'},g);
el('path',{d:pxpath(p,4650,5050,0.5,l=>1669-43*G(l,4862,13)),fill:'none',stroke:GREEN,'stroke-width':3.5},g);
el('path',{d:pxpath(p,4650,5050,0.2,l=>1669-(10*G(l,4740,2)+66*G(l,4861.3,1.6)+68*G(l,4958.9,1.5)+191*G(l,5006.8,1.5))),fill:'none',stroke:BLUE,'stroke-width':5},g);
}
// middle right
{const g=el('g',{'clip-path':'url(#cMR)'});const p=P.mr;
const vl=[[6300,1200,1370],[6363,1200,1390],[6548.5,1079,1400],[6563.5,1079,1684],[6583.5,1079,1480],[6716.5,1079,1370],[6731.3,1079,1370]];
for(const v of vl)el('line',{x1:p.fx(v[0]).toFixed(1),y1:v[1],x2:p.fx(v[0]).toFixed(1),y2:v[2],stroke:'#000','stroke-width':2,'stroke-dasharray':'9 6'},g);
el('path',{d:hist(p,6260,6762),fill:'none',stroke:'#000','stroke-width':4.5},g);
el('path',{d:fpath(p,6260,6760,0.5),fill:'none',stroke:RED,'stroke-width':4.5,'stroke-dasharray':'20 8 5 8'},g);
el('path',{d:dots(p,6260,6762,3,1),fill:'#000'},g);
el('path',{d:pxpath(p,6260,6760,0.5,l=>1669-83*G(l,6565,21)),fill:'none',stroke:GREEN,'stroke-width':3.5},g);
el('path',{d:pxpath(p,6260,6760,0.2,l=>1669-(10*G(l,6300,2)+4*G(l,6363,2)+44*G(l,6548.5,1.8)+207*G(l,6563.5,1.9)+127*G(l,6584,1.9)+42*G(l,6716.5,1.8)+38*G(l,6731.3,1.8))),fill:'none',stroke:BLUE,'stroke-width':5},g);
}
// bottom left
{const g=el('g',{'clip-path':'url(#cBL)'});const p=P.bl;
el('line',{x1:p.x0,y1:p.fy(0),x2:p.x1,y2:p.fy(0),stroke:'#000','stroke-width':4,'stroke-dasharray':'5 12'},g);
el('path',{d:hist(p,7066,8255),fill:'none',stroke:'#000','stroke-width':3.5},g);
el('path',{d:fpath(p,7068,8252,1),fill:'none',stroke:RED,'stroke-width':4.5,'stroke-dasharray':'22 9 6 9'},g);
el('path',{d:dots(p,7066,8255,2.5,1),fill:'#000'},g);
}
// bottom right
{const g=el('g',{'clip-path':'url(#cBR)'});const p=P.br;
el('line',{x1:p.x0,y1:p.fy(0),x2:p.x1-8,y2:p.fy(0),stroke:'#000','stroke-width':4,'stroke-dasharray':'5 12'},g);
el('path',{d:hist(p,8400,9955),fill:'none',stroke:'#000','stroke-width':3.5},g);
el('path',{d:fpath(p,8400,9952,1),fill:'none',stroke:RED,'stroke-width':4.5,'stroke-dasharray':'22 9 6 9'},g);
el('path',{d:dots(p,8400,9955,2.5,1),fill:'#000'},g);
}

// ---------- Insets ----------
const INS=[
{cid:'cI1',x0:2274,x1:2473,y0:480,y1:671,fx:v=>2274+(v+1.5)*99.5,fy:v=>601-57.33*v,xa:-1.5,xb:0.5,ya:-1.2,yb:2.1,
 blobs:[[2350,595,62,26,38,'#9a9a9a',0.95],[2318,575,30,16,25,'#a5a5a5',0.85],[2372,620,28,20,60,'#666',0.95],[2378,628,11,20,15,'#222',1],[2380,652,13,14,0,'#888',0.95],[2412,575,28,38,0,'#b8b8b8',0.95],[2425,548,20,18,0,'#b0b0b0',0.95],[2440,600,18,22,0,'#c4c4c4',0.9]],
 curves:[[v=>0.61/(v-0.47)+1.19,-1.5,0.22],[v=>0.61/(v-0.05)+1.3,-1.05,-0.86],[v=>0.61/(v-0.05)+1.3,-0.73,-0.19],[v=>1.05*v+0.45,-0.185,0.5]],dot:[-0.21,0.55]},
{cid:'cI2',x0:2558,x1:2757,y0:480,y1:671,fx:v=>2704.8+127.6*v,fy:v=>595.5-68.5*v,xa:-1.15,xb:0.41,ya:-1.1,yb:1.68,
 blobs:[[2622,600,30,62,-25,'#989898',0.95],[2595,565,32,24,20,'#aaaaaa',0.85],[2645,622,12,24,30,'#2a2a2a',1],[2640,640,16,22,20,'#666',0.95],[2662,530,24,26,0,'#b4b4b4',0.95],[2692,565,34,28,0,'#bbbbbb',0.95],[2718,588,24,20,0,'#c4c4c4',0.85],[2670,585,20,18,0,'#999',0.95]],
 curves:[[v=>0.72/(v-0.32)+1.30,-1.15,0.05],[v=>1.89*v+0.76,-0.31,0.41]],dot:[-0.43,0.49]},
{cid:'cI3',x0:2841,x1:3040,y0:480,y1:671,fx:v=>3040+93*v,fy:v=>595.5-68.5*v,xa:-2.14,xb:0,ya:-1.1,yb:1.68,
 blobs:[[2893,595,24,78,8,'#7e7e7e',0.95],[2896,606,10,30,8,'#1a1a1a',1],[2872,560,24,34,0,'#9a9a9a',0.95],[2985,528,30,24,0,'#b0b0b0',0.95],[3012,585,22,38,0,'#b2b2b2',0.95],[2955,560,28,28,0,'#bdbdbd',0.85],[2905,650,20,22,0,'#777',0.95]],
 curves:[[v=>0.73/(v+0.59)+1.33,-2.14,-0.87],[v=>1.18*v+1.30,-1.127,0]],dot:[-1.32,0.49]}
];
for(const I of INS){
 el('rect',{x:I.x0,y:I.y0,width:I.x1-I.x0,height:I.y1-I.y0,fill:'#fff'});
 const g=el('g',{'clip-path':'url(#'+I.cid+')'});
 const gb=el('g',{filter:'url(#blur)'},g);
 for(const b of I.blobs)el('ellipse',{cx:b[0],cy:b[1],rx:b[2],ry:b[3],transform:'rotate('+b[4]+' '+b[0]+' '+b[1]+')',fill:b[5],opacity:b[6]},gb);
 for(const c of I.curves){let d='';for(let i=0;i<=80;i++){const v=c[1]+(c[2]-c[1])*i/80;d+=(i?'L':'M')+I.fx(v).toFixed(1)+' '+I.fy(c[0](v)).toFixed(1);}el('path',{d,fill:'none',stroke:'#000','stroke-width':1.8},g);}
 el('circle',{cx:I.fx(I.dot[0]).toFixed(1),cy:I.fy(I.dot[1]).toFixed(1),r:4.5,fill:'#1f6ae0',stroke:'#000','stroke-width':1},g);
}

// ---------- Axes ----------
function axes(p,xa,xb,xmj,xmn,ya,yb,ymj,ymn,sw,fw){
 const W=p.x1-p.x0,H=p.y1-p.y0,xt=0.02*H,yt=0.02*W;let d='';
 for(let k=Math.ceil(xa/xmn-1e-6);k*xmn<=xb+1e-6;k++){const v=k*xmn,x=p.fx(v);if(x<p.x0-1||x>p.x1+1)continue;const r=v/xmj,m=Math.abs(r-Math.round(r))<1e-4;const t=m?xt:xt/2;d+='M'+x.toFixed(1)+' '+p.y1+'v'+(-t).toFixed(1)+'M'+x.toFixed(1)+' '+p.y0+'v'+t.toFixed(1);}
 for(let k=Math.ceil(ya/ymn-1e-6);k*ymn<=yb+1e-6;k++){const v=k*ymn,y=p.fy(v);if(y<p.y0-1||y>p.y1+1)continue;const r=v/ymj,m=Math.abs(r-Math.round(r))<1e-4;const t=m?yt:yt/2;d+='M'+p.x0+' '+y.toFixed(1)+'h'+t.toFixed(1)+'M'+p.x1+' '+y.toFixed(1)+'h'+(-t).toFixed(1);}
 el('path',{d,stroke:'#000','stroke-width':sw,fill:'none'},L2);
 el('rect',{x:p.x0,y:p.y0,width:W,height:H,fill:'none',stroke:'#000','stroke-width':fw},L2);
}
axes({x0:290,x1:791,y0:474,y1:975,fx:v=>540.5+v*250.5,fy:v=>724.5-v*250.5},-1,1,0.5,0.05,-1,1,0.5,0.05,2.5,4);
axes(P.top,4550,10103,1000,100,-1157,4988,1000,200,3,4);
axes(P.ml,4650,5050,100,10,-1920,4970,1000,100,2.5,4);
axes(P.mr,6260,6760,100,10,-1480,3830,1000,100,2.5,4);
axes(P.bl,7070,8251,200,50,-141,969,200,50,3,4);
axes(P.br,8400,9983,200,50,-130,890,200,50,3,4);
for(const I of INS)axes(I,I.xa,I.xb,0.5,0.1,I.ya,I.yb,0.5,0.1,1.5,3.5);
})();
</script>
</body></html>
